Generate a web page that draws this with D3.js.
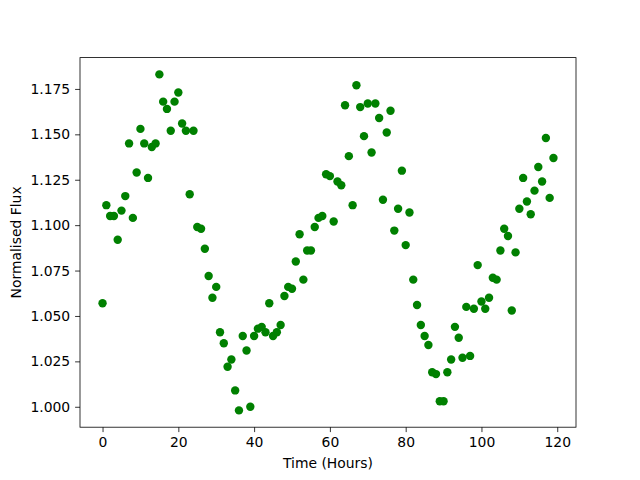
<!DOCTYPE html>
<html>
<head>
<meta charset="utf-8">
<script src="https://cdn.jsdelivr.net/npm/d3@7"></script>
<style>
  body { margin: 0; background: #fff; }
  text { font-family: "DejaVu Sans", sans-serif; }
</style>
</head>
<body>
<script>
// hourly samples
var hours = d3.range(0, 120);

var flux = [
    1.057, 1.111, 1.105, 1.105, 1.092, 1.108, 1.116, 1.145, 1.104, 1.129,
    1.153, 1.145, 1.126, 1.143, 1.145, 1.183, 1.168, 1.164, 1.152, 1.168,
    1.173, 1.156, 1.152, 1.117, 1.152, 1.099, 1.098, 1.087, 1.072, 1.060,
    1.066, 1.041, 1.035, 1.022, 1.026, 1.009, 0.998, 1.039, 1.031, 1.000,
    1.039, 1.043, 1.044, 1.041, 1.057, 1.039, 1.041, 1.045, 1.061, 1.066,
    1.065, 1.080, 1.095, 1.070, 1.086, 1.086, 1.099, 1.104, 1.105, 1.128,
    1.127, 1.102, 1.124, 1.122, 1.166, 1.138, 1.111, 1.177, 1.165, 1.149,
    1.167, 1.140, 1.167, 1.159, 1.114, 1.151, 1.163, 1.097, 1.109, 1.130,
    1.089, 1.107, 1.070, 1.056, 1.045, 1.039, 1.034, 1.019, 1.018, 1.003,
    1.003, 1.019, 1.026, 1.044, 1.038, 1.027, 1.055, 1.028, 1.054, 1.078,
    1.058, 1.054, 1.060, 1.071, 1.070, 1.086, 1.098, 1.094, 1.053, 1.085,
    1.109, 1.126, 1.113, 1.106, 1.119, 1.132, 1.124, 1.148, 1.115, 1.137
];

var xTicks = [0, 20, 40, 60, 80, 100, 120];
var yTicks = [1.000, 1.025, 1.050, 1.075, 1.100, 1.125, 1.150, 1.175];

var width = 640,
    height = 480;
var margin = {left: 80, right: 64, top: 57.6, bottom: 52.8};
var plotW = width - margin.left - margin.right,
    plotH = height - margin.top - margin.bottom;

var svg = d3.select("body")
    .append("svg")
    .attr("width", width)
    .attr("height", height);

// matplotlib-style 5% margins
var xMin = d3.min(hours), xMax = d3.max(hours);
var yMin = d3.min(flux), yMax = d3.max(flux);
var xPad = (xMax - xMin) * 0.05, yPad = (yMax - yMin) * 0.05;

var x = d3.scaleLinear()
    .domain([xMin - xPad, xMax + xPad])
    .range([0, plotW]);

var y = d3.scaleLinear()
    .domain([yMin - yPad, yMax + yPad])
    .range([plotH, 0]);

var g = svg.append("g")
    .attr("transform", "translate(" + margin.left + "," + margin.top + ")");

g.selectAll(".dot")
    .data(hours)
    .enter().append("circle")
    .attr("class", "dot")
    .attr("cx", function(d) { return x(d); })
    .attr("cy", function(d, i) { return y(flux[i]); })
    .attr("r", 4.2)
    .attr("fill", "#008000");

var xAxis = g.append("g")
    .attr("transform", "translate(0," + plotH + ")")
    .call(d3.axisBottom(x).tickValues(xTicks).tickSize(4.9).tickPadding(4.9)
        .tickFormat(d3.format("d")));

var yAxis = g.append("g")
    .call(d3.axisLeft(y).tickValues(yTicks).tickSize(4.9).tickPadding(4.9)
        .tickFormat(d3.format(".3f")));

[xAxis, yAxis].forEach(function(a) {
    a.select(".domain").remove();
    a.selectAll("line").attr("stroke", "#000").attr("stroke-width", 0.8);
    a.selectAll("text")
        .attr("fill", "#000")
        .style("font-family", "DejaVu Sans")
        .style("font-size", "13.9px");
});

// frame
g.append("rect")
    .attr("width", plotW)
    .attr("height", plotH)
    .attr("fill", "none")
    .attr("stroke", "#000")
    .attr("stroke-width", 0.8);

svg.append("text")
    .attr("x", margin.left + plotW / 2)
    .attr("y", 468)
    .attr("text-anchor", "middle")
    .style("font-size", "13.9px")
    .text("Time (Hours)");

svg.append("text")
    .attr("transform", "translate(21," + (margin.top + plotH / 2) + ") rotate(-90)")
    .attr("text-anchor", "middle")
    .style("font-size", "13.9px")
    .text("Normalised Flux");
</script>
</body>
</html>
